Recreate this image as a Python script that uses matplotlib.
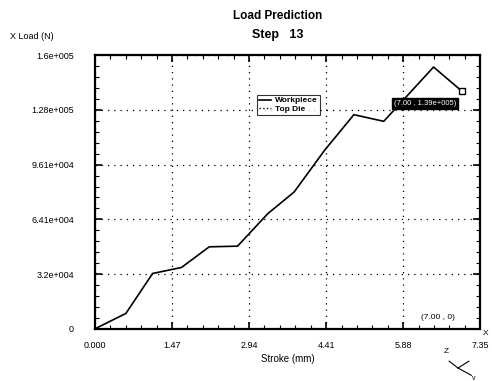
import matplotlib.pyplot as plt
from matplotlib.lines import Line2D
from matplotlib.ticker import MultipleLocator

plt.rcParams['font.family'] = ['Liberation Sans', 'DejaVu Sans']

# Workpiece load curve
stroke = [0.0, 0.59, 1.10, 1.65, 2.18, 2.72, 3.30, 3.80, 4.38, 4.94, 5.51, 6.46, 7.00]
load = [0, 9000, 32400, 35900, 48000, 48400, 67500, 80100, 104500, 125400, 121500, 153300, 139200]

xticks = [0.0, 1.47, 2.94, 4.41, 5.88, 7.35]
xlabels = ['0.000', '1.47', '2.94', '4.41', '5.88', '7.35']
ymax = 160200
yticks = [0, 32040, 64080, 96120, 128160, 160200]
ylabels = ['0', '3.2e+004', '6.41e+004', '9.61e+004', '1.28e+005', '1.6e+005']

fig = plt.figure(figsize=(4.92, 3.81), dpi=100)
ax = fig.add_axes([0.193, 0.137, 0.783, 0.718])

ax.plot(stroke, load, color='black', lw=1.2)
ax.plot(stroke[-1], load[-1], marker='s', ms=4, mfc='white', mec='black', mew=1)

ax.set_xlim(0, 7.35)
ax.set_ylim(0, ymax)
ax.set_xticks(xticks)
ax.set_xticklabels(xlabels, fontsize=6.5)
ax.set_yticks(yticks)
ax.set_yticklabels(ylabels, fontsize=6.5)
ax.xaxis.set_minor_locator(MultipleLocator(0.294))
ax.yaxis.set_minor_locator(MultipleLocator(ymax / 25))
ax.tick_params(which='both', direction='in', top=True, right=True, color='black')
ax.tick_params(which='major', length=5, width=1.2)
ax.tick_params(which='minor', length=3, width=0.8)
ax.tick_params(axis='x', which='major', pad=9)
ax.tick_params(axis='y', which='major', pad=15)
for s in ax.spines.values():
    s.set_linewidth(1.6)
ax.grid(True, which='major', color='black', linestyle=(0, (1, 4)), lw=0.9)

ax.set_xlabel('Stroke (mm)', fontsize=7, labelpad=3)

fig.text(0.565, 0.958, 'Load Prediction', ha='center', va='center', fontsize=8.5, fontweight='bold')
fig.text(0.565, 0.908, 'Step   13', ha='center', va='center', fontsize=9, fontweight='bold')
fig.text(0.02, 0.905, 'X Load (N)', ha='left', va='center', fontsize=6.5)

handles = [Line2D([], [], color='black', lw=1.2),
           Line2D([], [], color='black', lw=1.0, linestyle=':')]
leg = ax.legend(handles, ['Workpiece', 'Top Die'], loc='upper left',
                bbox_to_anchor=(0.41, 0.87), fontsize=6, handlelength=1.5,
                handletextpad=0.5, borderpad=0.2, labelspacing=0.1,
                frameon=True, fancybox=False, prop={'weight': 'bold', 'size': 6})
leg.get_frame().set_edgecolor('black')
leg.get_frame().set_linewidth(0.8)

ax.text(0.775, 0.825, '(7.00 , 1.39e+005)', transform=ax.transAxes, fontsize=5.5,
        color='white', va='center', ha='left',
        bbox=dict(boxstyle='square,pad=0.25', fc='black', ec='black'))
ax.text(0.89, 0.035, '(7.00 , 0)', transform=ax.transAxes, fontsize=6, ha='center')

# axis triad, bottom right
fig.add_artist(Line2D([0.931, 0.953], [0.034, 0.052], color='black', lw=0.8))
fig.add_artist(Line2D([0.931, 0.913], [0.034, 0.052], color='black', lw=0.8))
fig.add_artist(Line2D([0.931, 0.958], [0.034, 0.015], color='black', lw=0.8))
fig.text(0.908, 0.073, 'Z', fontsize=6, ha='center')
fig.text(0.988, 0.122, 'X', fontsize=6, ha='center')
fig.text(0.963, 0.003, 'v', fontsize=5, ha='center')

fig.savefig('out.png', dpi=100)
